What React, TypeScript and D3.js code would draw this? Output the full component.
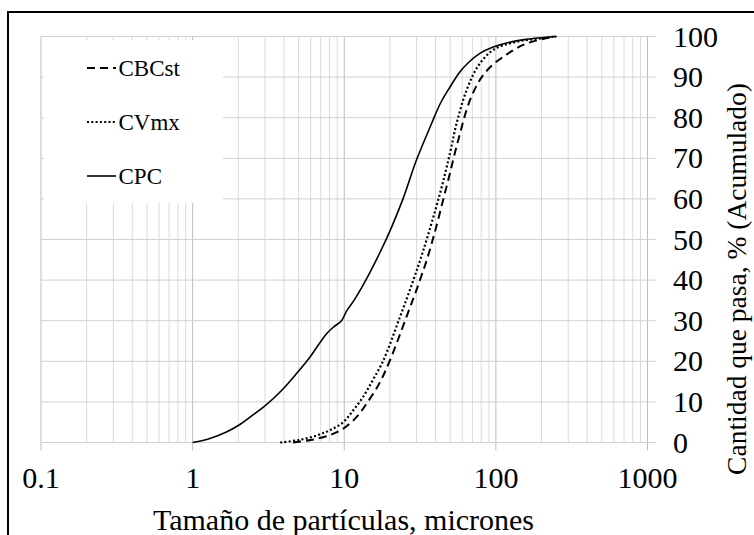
import React from "react";
import * as d3 from "d3";

const cpcSize = [1, 1.3, 1.67, 2, 2.5, 3, 3.86, 4.8, 5.93, 7.64, 8.6, 9.6, 10.4, 11.6, 13.7, 17.2, 20.5, 24.4, 29.9, 37.6, 43, 49.7, 58, 66, 78, 96, 123, 159, 200, 245];
const cpcPct = [0, 1.0, 2.6, 4.2, 6.8, 9.0, 12.8, 16.8, 21.0, 26.8, 28.6, 30.0, 32.5, 35.0, 39.6, 46.8, 53.0, 60.0, 69.5, 78.5, 83.5, 87.5, 91.3, 93.6, 95.8, 97.4, 98.6, 99.3, 99.7, 100];

const cvmxSize = [3.78, 5, 6.56, 8, 9.85, 11.5, 13.3, 15.5, 18.1, 23.3, 28.5, 33.2, 42.7, 49.7, 55, 64, 76, 96, 137, 204, 245];
const cvmxPct = [0, 0.6, 1.7, 3.0, 5.0, 8.0, 11.2, 15.5, 20.2, 30.9, 39.9, 47.3, 61.2, 71.1, 78.5, 86.7, 92.6, 96.7, 98.7, 99.6, 100];

const cbcSize = [4.6, 6, 8, 9.85, 12, 14, 17, 20, 25.7, 31.5, 36.6, 47.2, 56.4, 67.3, 80, 95, 112, 135, 160, 204, 251];
const cbcPct = [0, 0.6, 1.8, 3.4, 6.2, 9.5, 14.5, 20.2, 30.9, 39.9, 47.3, 62.9, 74.4, 84.2, 89.8, 93.0, 95.0, 97.0, 98.3, 99.4, 100];

const xTickValues = [0.1, 1, 10, 100, 1000];
const xTickLabels = ["0.1", "1", "10", "100", "1000"];
const yTickValues = [0, 10, 20, 30, 40, 50, 60, 70, 80, 90, 100];

const seriesNames = ["CBCst", "CVmx", "CPC"];

const FONT = "'Liberation Serif', 'Times New Roman', serif";

export default function App() {
  const W = 754;
  const H = 535;
  const x = d3.scaleLog().domain([0.1, 1000]).range([41, 647.5]);
  const y = d3.scaleLinear().domain([0, 100]).range([442.5, 36.5]);

  const line = d3
    .line<[number, number]>()
    .x((d) => x(d[0]))
    .y((d) => y(d[1]))
    .curve(d3.curveCatmullRom.alpha(0.5));

  const zip = (a: number[], b: number[]) => a.map((v, i) => [v, b[i]] as [number, number]);

  const series = [
    { name: seriesNames[0], data: zip(cbcSize, cbcPct), dash: "8,5", width: 2 },
    { name: seriesNames[1], data: zip(cvmxSize, cvmxPct), dash: "2,2.3", width: 2.2 },
    { name: seriesNames[2], data: zip(cpcSize, cpcPct), dash: "none", width: 1.6 },
  ];

  const allX = x.ticks();
  const isMajor = (v: number) => Math.abs(Math.log10(v) - Math.round(Math.log10(v))) < 1e-9;

  const legendY = [68, 122, 176];

  return (
    <svg
      width={W}
      height={H}
      style={{ position: "absolute", left: 0, top: 0, background: "#fff" }}
    >
      <rect x={0} y={0} width={W} height={H} fill="#fff" />
      {/* outer frame */}
      <rect x={8} y={12} width={800} height={600} fill="none" stroke="#000" strokeWidth={2} />

      {/* vertical gridlines */}
      {allX.map((v, i) => (
        <line
          key={"vx" + i}
          x1={x(v)}
          x2={x(v)}
          y1={y(100)}
          y2={isMajor(v) ? y(0) + 8 : y(0)}
          stroke={isMajor(v) ? "#bdbdbd" : "#dadada"}
          strokeWidth={1}
        />
      ))}
      {/* horizontal gridlines */}
      {yTickValues.map((v) => (
        <line
          key={"hy" + v}
          x1={x(0.1)}
          x2={x(1000) + 8}
          y1={y(v)}
          y2={y(v)}
          stroke="#d0d0d0"
          strokeWidth={1}
        />
      ))}

      {/* legend background */}
      <rect x={44} y={40} width={179} height={163} fill="#fff" />

      {/* curves */}
      {series.map((s) => (
        <path
          key={s.name}
          d={line(s.data) || ""}
          fill="none"
          stroke="#000"
          strokeWidth={s.width}
          strokeDasharray={s.dash}
        />
      ))}

      {/* legend */}
      {series.map((s, i) => (
        <g key={"lg" + s.name}>
          <line
            x1={87}
            x2={116}
            y1={legendY[i]}
            y2={legendY[i]}
            stroke="#000"
            strokeWidth={s.width}
            strokeDasharray={s.dash}
          />
          <text x={118.5} y={legendY[i] + 7.5} fontFamily={FONT} fontSize={23} fill="#000">
            {s.name}
          </text>
        </g>
      ))}

      {/* x tick labels */}
      {xTickValues.map((v, i) => (
        <text
          key={"xt" + v}
          x={x(v)}
          y={488}
          textAnchor="middle"
          fontFamily={FONT}
          fontSize={30}
          fill="#000"
        >
          {xTickLabels[i]}
        </text>
      ))}

      {/* y tick labels */}
      {yTickValues.map((v) => (
        <text
          key={"yt" + v}
          x={673}
          y={y(v) + 10}
          textAnchor="start"
          fontFamily={FONT}
          fontSize={30}
          fill="#000"
        >
          {v}
        </text>
      ))}

      {/* axis titles */}
      <text x={343.5} y={530} textAnchor="middle" fontFamily={FONT} fontSize={30} fill="#000">
        Tamaño de partículas, micrones
      </text>
      <text
        transform="translate(746,279) rotate(-90)"
        textAnchor="middle"
        fontFamily={FONT}
        fontSize={27.5}
        fill="#000"
      >
        Cantidad que pasa, % (Acumulado)
      </text>
    </svg>
  );
}
